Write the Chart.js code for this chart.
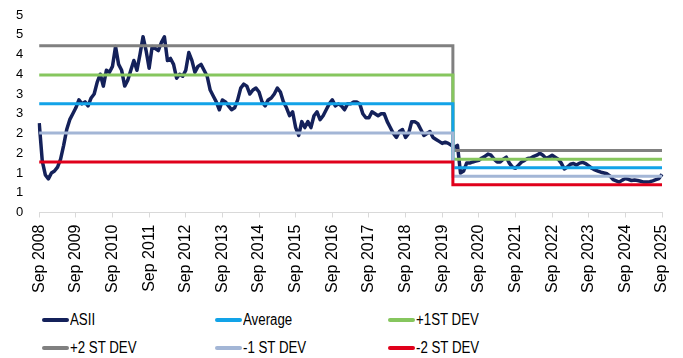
<!DOCTYPE html>
<html lang="en">
<head>
  <meta charset="UTF-8">
  <title>ASII valuation bands</title>
  <script src="https://cdn.jsdelivr.net/npm/chart.js"></script>
  <style>
    html, body {
      margin: 0;
      padding: 0;
      background: #fff;
      width: 683px;
      height: 358px;
      overflow: hidden;
      font-family: "Liberation Sans", Arial, sans-serif;
    }
    #wrap {
      position: absolute;
      left: 0;
      top: 0;
      width: 683px;
      height: 300px;
    }
    #legend {
      position: absolute;
      left: 42px;
      top: 310px;
      display: grid;
      grid-template-columns: 173px 173px 173px;
      row-gap: 8px;
    }
    .item {
      display: flex;
      align-items: center;
      height: 20px;
      font-size: 16px;
      color: #000;
      white-space: nowrap;
    }
    .swatch {
      width: 27px;
      height: 4px;
      border-radius: 2px;
      margin-right: 1px;
      flex: none;
    }
    .txt {
      display: inline-block;
      transform: scaleX(0.83);
      transform-origin: left center;
    }
  </style>
</head>
<body>
  <div id="wrap"><canvas id="chart"></canvas></div>
  <div id="legend"></div>

  <script>
    // months run Sep 2008 .. Sep 2025, one value per month
    const years = [2008, 2009, 2010, 2011, 2012, 2013, 2014, 2015, 2016,
                   2017, 2018, 2019, 2020, 2021, 2022, 2023, 2024, 2025];
    const monthNames = ['Jan', 'Feb', 'Mar', 'Apr', 'May', 'Jun',
                        'Jul', 'Aug', 'Sep', 'Oct', 'Nov', 'Dec'];

    const asii = [
      2.26, 1.30, 0.95, 0.85, 1.00, 1.05, 1.15, 1.35, 1.70, 2.10, 2.35, 2.50,
      2.65, 2.85, 2.75, 2.80, 2.70, 2.90, 3.00, 3.30, 3.50, 3.20, 3.60, 3.55,
      3.70, 4.20, 3.75, 3.60, 3.20, 3.35, 3.60, 3.85, 3.60, 4.00, 4.45, 4.10,
      3.65, 4.20, 4.15, 4.10, 4.30, 4.45, 3.85, 3.90, 3.75, 3.40, 3.50, 3.45,
      3.60, 4.05, 3.85, 3.55, 3.70, 3.75, 3.60, 3.45, 3.10, 2.95, 2.80, 2.60,
      2.85, 2.80, 2.70, 2.60, 2.65, 2.85, 3.15, 3.25, 3.20, 3.00, 3.10, 3.15,
      3.05, 2.80, 2.70, 2.85, 2.90, 3.00, 3.15, 3.05, 2.80, 2.65, 2.45, 2.55,
      2.15, 1.95, 2.30, 2.15, 2.30, 2.15, 2.45, 2.55, 2.35, 2.45, 2.60, 2.75,
      2.85, 2.70, 2.75, 2.70, 2.60, 2.75, 2.75, 2.80, 2.80, 2.75, 2.50, 2.40,
      2.40, 2.55, 2.50, 2.45, 2.50, 2.50, 2.30, 2.15, 2.00, 1.90, 2.05, 2.10,
      1.90, 2.00, 2.30, 2.30, 2.25, 2.10, 1.95, 2.00, 2.05, 1.90, 1.85, 1.80,
      1.75, 1.78, 1.75, 1.70, 1.65, 1.70, 1.00, 1.05, 1.25, 1.25, 1.28, 1.30,
      1.32, 1.38, 1.42, 1.48, 1.45, 1.35, 1.28, 1.28, 1.35, 1.40, 1.25, 1.15,
      1.12, 1.20, 1.28, 1.32, 1.37, 1.38, 1.42, 1.45, 1.50, 1.45, 1.37, 1.40,
      1.45, 1.40, 1.35, 1.25, 1.10, 1.15, 1.22, 1.24, 1.20, 1.25, 1.27, 1.24,
      1.18, 1.12, 1.08, 1.05, 1.02, 1.00, 0.98, 0.92, 0.83, 0.80, 0.77, 0.82,
      0.86, 0.84, 0.81, 0.82, 0.81, 0.79, 0.77, 0.77, 0.78, 0.80, 0.83, 0.86,
      0.97
    ];

    // band levels: [before the break, after the break]
    const breakIndex = 136; // Jan 2020
    const avgLevels    = [2.75, 1.13];
    const plus1Levels  = [3.48, 1.35];
    const plus2Levels  = [4.22, 1.57];
    const minus1Levels = [2.01, 0.92];
    const minus2Levels = [1.28, 0.70];

    const yTicks = [0, 0.5, 1, 1.5, 2, 2.5, 3, 3.5, 4, 4.5, 5];

    // month labels
    const labels = asii.map((v, i) => {
      const m = (8 + i) % 12;
      const y = years[0] + Math.floor((8 + i) / 12);
      return monthNames[m] + ' ' + y;
    });

    function band(levels) {
      return asii.map((v, i) => i < breakIndex ? levels[0] : levels[1]);
    }

    const series = [
      { label: 'ASII',       color: '#14215a', data: asii,                width: 3.5 },
      { label: 'Average',    color: '#12a3e8', data: band(avgLevels),    width: 3 },
      { label: '+1ST DEV',   color: '#86c65e', data: band(plus1Levels),  width: 3 },
      { label: '+2 ST DEV',  color: '#808080', data: band(plus2Levels),  width: 3 },
      { label: '-1 ST DEV',  color: '#a3b6d6', data: band(minus1Levels), width: 3 },
      { label: '-2 ST DEV',  color: '#e0001b', data: band(minus2Levels), width: 3 }
    ];

    // draw order: red on top ... ASII at the bottom
    const drawOrder = ['-2 ST DEV', '-1 ST DEV', 'Average', '+1ST DEV', '+2 ST DEV', 'ASII'];
    const datasets = drawOrder.map(name => {
      const s = series.find(x => x.label === name);
      return {
        label: s.label,
        data: s.data,
        borderColor: s.color,
        backgroundColor: s.color,
        borderWidth: s.width,
        pointRadius: 0,
        fill: false,
        tension: 0,
        stepped: s.label === 'ASII' ? false : 'middle',
        borderJoinStyle: s.label === 'ASII' ? 'round' : 'miter'
      };
    });

    // keep the plot box where the reference has it
    function noPad(axis) {
      axis.paddingTop = 0;
      axis.paddingBottom = 0;
      axis.paddingLeft = 0;
      axis.paddingRight = 0;
    }

    new Chart(document.getElementById('chart'), {
      type: 'line',
      data: { labels: labels, datasets: datasets },
      options: {
        responsive: true,
        maintainAspectRatio: false,
        animation: false,
        layout: { padding: { left: 0, right: 21, top: 15, bottom: 0 } },
        plugins: {
          legend: { display: false },
          tooltip: { enabled: false }
        },
        scales: {
          x: {
            afterFit: noPad,
            grid: {
              display: true,
              drawOnChartArea: false,
              drawTicks: true,
              tickLength: 5,
              color: '#d9d9d9'
            },
            border: { display: true, color: '#d9d9d9', width: 1 },
            ticks: {
              autoSkip: false,
              maxRotation: 90,
              minRotation: 90,
              padding: 7,
              color: '#000',
              font: { family: 'Liberation Sans', size: 16 },
              callback: function (val, idx) {
                return idx % 12 === 0 ? this.getLabelForValue(val) : null;
              }
            }
          },
          y: {
            min: 0,
            max: 5,
            afterFit: noPad,
            afterBuildTicks: axis => { axis.ticks = yTicks.map(v => ({ value: v })); },
            grid: { display: false, drawTicks: false },
            border: { display: false },
            ticks: {
              padding: 16,
              color: '#000',
              font: { family: 'Liberation Sans', size: 13 },
              callback: v => Math.round(v)
            }
          }
        }
      }
    });

    // legend, three columns in the reference order
    const legend = document.getElementById('legend');
    series.forEach(s => {
      const item = document.createElement('div');
      item.className = 'item';
      const sw = document.createElement('span');
      sw.className = 'swatch';
      sw.style.background = s.color;
      const txt = document.createElement('span');
      txt.className = 'txt';
      txt.textContent = s.label;
      item.appendChild(sw);
      item.appendChild(txt);
      legend.appendChild(item);
    });
  </script>
</body>
</html>
